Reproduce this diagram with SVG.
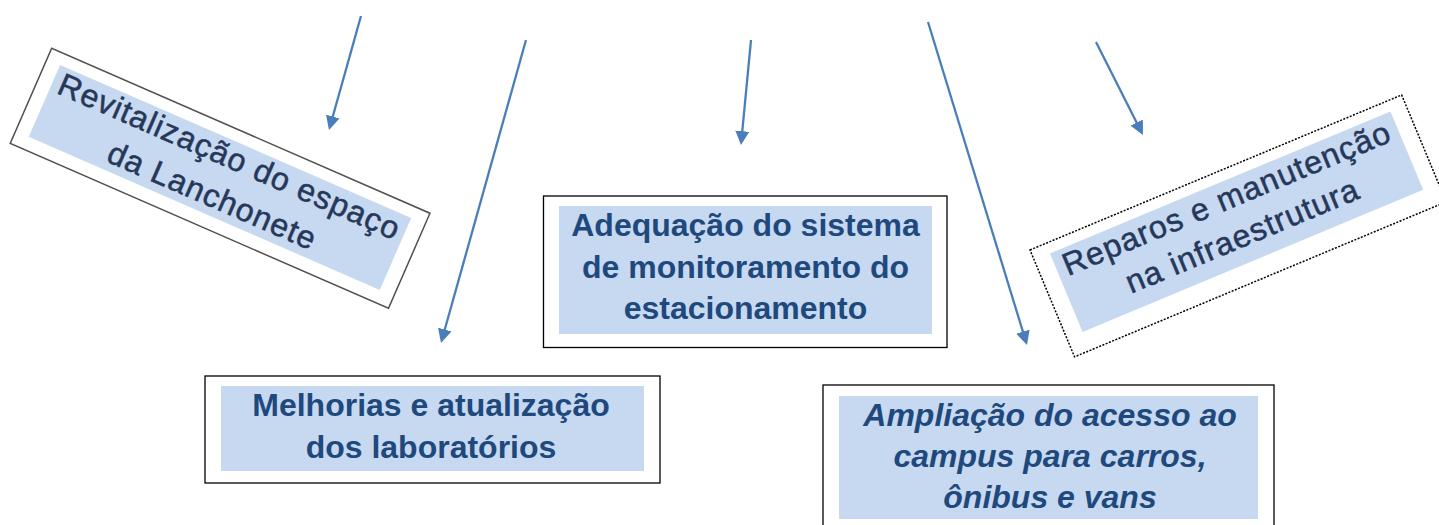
<svg xmlns="http://www.w3.org/2000/svg" width="1439" height="525" viewBox="0 0 1439 525">
<style>
.box{fill:#ffffff;stroke:#000000;stroke-width:1.3}
.fill{fill:#c6d9f1}
.t{font-family:"Liberation Sans",Arial,sans-serif;font-weight:bold;font-size:32px;fill:#1f497d;text-anchor:middle}
.ti{font-style:italic}
.rt{font-family:"Liberation Sans",Arial,sans-serif;font-weight:normal;font-size:32px;letter-spacing:1px;fill:#26375a;stroke:#26375a;stroke-width:0.5;text-anchor:middle}
.arrow{stroke:#4a7ebb;stroke-width:2.3;fill:none;marker-end:url(#ah)}
</style>
<defs>
<marker id="ah" viewBox="0 0 14 14" markerWidth="14" markerHeight="14" markerUnits="userSpaceOnUse" refX="1" refY="7" orient="auto">
<path d="M0,0 L14,7 L0,14 z" fill="#4a7ebb"/>
</marker>
</defs>
<rect width="1439" height="525" fill="#ffffff"/>
<g id="connectors">
<line class="arrow" x1="361" y1="16" x2="332.5" y2="117.5"/>
<line class="arrow" x1="526" y1="40" x2="444.5" y2="330.5"/>
<line class="arrow" x1="751" y1="40" x2="742.2" y2="132.1"/>
<line class="arrow" x1="928" y1="22" x2="1023.2" y2="332.6"/>
<line class="arrow" x1="1096" y1="42" x2="1137.1" y2="123.4"/>
</g>
<g id="node-lanchonete" transform="translate(220.1,178.3) rotate(23.56)">
<rect x="-206.35" y="-51.85" width="412.7" height="103.7" fill="#ffffff" stroke="#505050" stroke-width="1.5"/>
<rect class="fill" x="-192" y="-40" width="383" height="78.5"/>
<text class="rt" x="0" y="-12.6">Revitalização do espaço</text>
<text class="rt" x="0" y="30.1">da Lanchonete</text>
</g>
<g id="node-reparos" transform="translate(1238.1,225.9) rotate(-22.64)">
<rect x="-201.35" y="-57.9" width="402.7" height="115.8" fill="#ffffff" stroke="#000000" stroke-width="1.5" stroke-dasharray="2,1.5"/>
<rect class="fill" x="-184.3" y="-47" width="369" height="85"/>
<text class="rt" x="0" y="-19">Reparos e manutenção</text>
<text class="rt" x="0" y="21.5">na infraestrutura</text>
</g>
<g id="node-estacionamento">
<rect class="box" x="543.5" y="196" width="403.5" height="151.5"/>
<rect class="fill" x="559" y="206" width="373" height="128"/>
<text class="t" x="745.5" y="236">Adequação do sistema</text>
<text class="t" x="745.5" y="277.5">de monitoramento do</text>
<text class="t" x="745.5" y="319">estacionamento</text>
</g>
<g id="node-laboratorios">
<rect class="box" x="205" y="376" width="455" height="107"/>
<rect class="fill" x="221" y="386" width="423" height="85"/>
<text class="t" x="431" y="416">Melhorias e atualização</text>
<text class="t" x="431" y="458">dos laboratórios</text>
</g>
<g id="node-acesso">
<rect class="box" x="823" y="385" width="451" height="160"/>
<rect class="fill" x="839" y="396" width="419" height="123"/>
<text class="t ti" x="1050" y="426">Ampliação do acesso ao</text>
<text class="t ti" x="1050" y="467">campus para carros,</text>
<text class="t ti" x="1050" y="508">ônibus e vans</text>
</g>
</svg>
